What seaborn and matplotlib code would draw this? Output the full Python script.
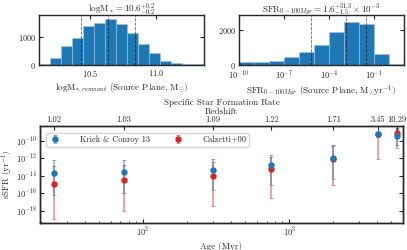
import numpy as np
import pandas as pd
import matplotlib
matplotlib.use("Agg")
import matplotlib.pyplot as plt
import matplotlib.ticker as mticker
import seaborn as sns

# --- stellar mass histogram (bin edges and counts) ---
mass_edges = [10.11, 10.193, 10.277, 10.36, 10.443, 10.527, 10.61, 10.693,
              10.777, 10.86, 10.943, 11.027, 11.11, 11.193, 11.277, 11.36]
mass_counts = [40, 260, 680, 965, 1380, 1495, 1625, 1450, 1120, 750, 410, 130, 60, 30, 20]
mass_lines = [10.43, 10.63, 10.84]

# --- SFR histogram (log10 SFR bins) ---
sfr_edges = [-10, -9, -8, -7, -6, -5, -4, -3, -2, -1, 0, 1]
sfr_counts = [150, 190, 230, 440, 760, 1140, 1870, 2440, 2340, 630, 50]
sfr_lines = [-5.17, -2.87, -1.49]

# --- sSFR vs age (log10 values) ---
ages = [24.5, 74, 300, 753, 2000, 4070, 5450]
redshift_labels = ["1.02", "1.03", "1.09", "1.22", "1.71", "3.45", "10.29"]
kc_log = [-13.7, -13.5, -13.3, -12.8, -11.9, -9.2, -9.4]
kc_hi_log = [-12.2, -12.2, -12.1, -11.6, -10.5, -9.0, -8.55]
kc_lo_log = [-16.2, -16.0, -15.6, -15.0, -14.3, -9.5, -10.8]
cz_log = [-14.9, -14.5, -14.0, -13.2, -12.1, -9.25, -9.1]
cz_hi_log = [-12.9, -12.7, -12.4, -11.8, -10.6, -9.0, -8.6]
cz_lo_log = [-18.9, -18.0, -17.4, -16.5, -15.1, -12.1, -10.5]

sns.set_style("ticks")
plt.rcParams.update({
    "font.family": ["cmr10", "DejaVu Serif"],
    "mathtext.fontset": "cm",
    "axes.unicode_minus": False,
    "axes.formatter.use_mathtext": True,
    "font.size": 6,
    "axes.linewidth": 1.0,
    "xtick.direction": "in",
    "ytick.direction": "in",
    "xtick.major.size": 3,
    "ytick.major.size": 3,
    "xtick.minor.size": 1.5,
    "ytick.minor.size": 1.5,
    "xtick.labelsize": 6,
    "ytick.labelsize": 6,
})

fig = plt.figure(figsize=(4.07, 2.5), dpi=100)
blue = "#1f77b4"
red = "#d62728"
lab_fs = 6.5


def centers(edges):
    e = np.array(edges)
    return (e[:-1] + e[1:]) / 2


# ----- top left: stellar mass -----
ax1 = fig.add_axes([0.0958, 0.74, 0.405, 0.2])
mdf = pd.DataFrame({"x": centers(mass_edges), "w": mass_counts})
sns.histplot(data=mdf, x="x", weights="w", bins=list(mass_edges), ax=ax1,
             color=blue, alpha=1, edgecolor="#9ec3e6", linewidth=0.4)
for v in mass_lines:
    ax1.axvline(v, color="k", ls="--", lw=0.6, alpha=0.6)
ax1.set_xlim(mass_edges[0], mass_edges[-1])
ax1.set_ylim(0, 1770)
ax1.set_yticks([0, 1000])
ax1.set_xticks([10.5, 11.0])
ax1.set_ylabel("")
ax1.set_xlabel(r"logM$_{*,remnant}$ (Source Plane, M$_{\odot}$)", fontsize=lab_fs, labelpad=2)
ax1.set_title(r"logM$_* = 10.6^{+0.2}_{-0.2}$", fontsize=lab_fs, pad=2)
ax1.tick_params(top=True, right=True, pad=2)

# ----- top right: SFR -----
ax2 = fig.add_axes([0.587, 0.74, 0.405, 0.2])
sdf = pd.DataFrame({"x": centers(sfr_edges), "w": sfr_counts})
sns.histplot(data=sdf, x="x", weights="w", bins=list(sfr_edges), ax=ax2,
             color=blue, alpha=1, edgecolor="#9ec3e6", linewidth=0.4)
for v in sfr_lines:
    ax2.axvline(v, color="k", ls="--", lw=0.6, alpha=0.6)
ax2.set_xlim(-10, 1)
ax2.set_ylim(0, 2860)
ax2.set_yticks([0, 2000])
ax2.set_xticks([-10, -7, -4, -1])
ax2.set_xticklabels([r"$10^{-10}$", r"$10^{-7}$", r"$10^{-4}$", r"$10^{-1}$"])
ax2.set_ylabel("")
ax2.set_xlabel(r"SFR$_{0-100Myr}$ (Source Plane, M$_{\odot}$yr$^{-1}$)", fontsize=lab_fs, labelpad=2)
ax2.set_title(r"SFR$_{0-100Myr} = 1.6^{+31.3}_{-1.5} \times 10^{-3}$", fontsize=lab_fs, pad=2)
ax2.tick_params(top=True, right=True, pad=2)

# ----- bottom: sSFR vs age -----
ax3 = fig.add_axes([0.098, 0.108, 0.892, 0.389])
ax3.set_xscale("log")
ax3.set_yscale("log")


def draw(vals, lo, hi, color, label):
    y = 10 ** np.array(vals)
    err = [y - 10 ** np.array(lo), 10 ** np.array(hi) - y]
    eb = ax3.errorbar(ages, y, yerr=err, fmt="o", color=color, ms=3.6,
                      ecolor=color, elinewidth=1.2, capsize=1.5, capthick=0.8,
                      label=label)
    for part in eb[1] + eb[2]:
        part.set_alpha(0.5)


draw(cz_log, cz_lo_log, cz_hi_log, red, "Calzetti+00")
draw(kc_log, kc_lo_log, kc_hi_log, blue, "Kriek & Conroy 13")

ax3.set_xlim(19.7, 6000)
ax3.set_ylim(10 ** -19.4, 10 ** -8.25)
ax3.set_yticks([1e-10, 1e-12, 1e-14, 1e-16, 1e-18])
ax3.yaxis.set_minor_locator(mticker.NullLocator())
ax3.set_xlabel("Age (Myr)", fontsize=lab_fs, labelpad=2)
ax3.set_ylabel(r"sSFR (yr$^{-1}$)", fontsize=lab_fs, labelpad=1)
ax3.tick_params(right=True, top=False, pad=2)
ax3.tick_params(which="minor", top=False)

h, l = ax3.get_legend_handles_labels()
leg = ax3.legend(h[::-1], l[::-1], ncol=2, loc="upper left", fontsize=6,
                 frameon=True, fancybox=True, edgecolor="#cccccc",
                 borderpad=0.35, handlelength=1.5, handletextpad=2.2,
                 columnspacing=2.6, bbox_to_anchor=(0.005, 0.97))
leg.get_frame().set_linewidth(1.0)

top = ax3.twiny()
top.set_xscale("log")
top.set_xlim(ax3.get_xlim())
top.set_xticks(ages)
top.set_xticklabels(redshift_labels)
top.xaxis.set_minor_locator(mticker.NullLocator())
top.tick_params(direction="in", pad=1.5, labelsize=6)
top.set_xlabel("Redshift", fontsize=lab_fs, labelpad=1)
top.set_title("Specific Star Formation Rate", fontsize=lab_fs, pad=0)

fig.savefig("out.png", dpi=100)
